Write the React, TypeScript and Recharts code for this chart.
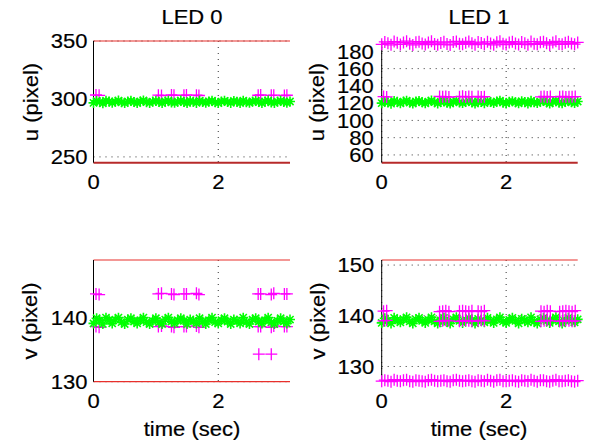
import React from 'react';
import { ScatterChart, Scatter, XAxis, YAxis, CartesianGrid, ReferenceLine } from 'recharts';

const FONT = '"Liberation Sans", Arial, Helvetica, sans-serif';
const MAGENTA = '#ff00ff';
const GREEN = '#00ff00';

// sample times (sec)
const TIME = [
    0, 0.05, 0.1, 0.15, 0.2, 0.25, 0.3, 0.35, 0.4, 0.45,
    0.5, 0.55, 0.6, 0.65, 0.7, 0.75, 0.8, 0.85, 0.9, 0.95,
    1, 1.05, 1.1, 1.15, 1.2, 1.25, 1.3, 1.35, 1.4, 1.45,
    1.5, 1.55, 1.6, 1.65, 1.7, 1.75, 1.8, 1.85, 1.9, 1.95,
    2, 2.05, 2.1, 2.15, 2.2, 2.25, 2.3, 2.35, 2.4, 2.45,
    2.5, 2.55, 2.6, 2.65, 2.7, 2.75, 2.8, 2.85, 2.9, 2.95,
    3, 3.05, 3.1, 3.15,
];

// times of the '+' clusters
const LED0_HITS_T = [0.04, 0.09, 1.04, 1.09, 1.25, 1.29, 1.45, 1.49, 1.65, 1.69, 2.64, 2.68, 2.85, 2.89, 3.06, 3.1];
const LED0_LOW_T = [2.65, 2.85];
const LED1_HITS_T = [
    0.03, 0.08, 0.93, 0.98, 1.03, 1.08, 1.25, 1.3, 1.35, 1.4, 1.45, 1.55,
    1.6, 1.65, 2.56, 2.61, 2.66, 2.71, 2.86, 2.91, 2.96, 3.01, 3.06, 3.11,
];

// LED 0, u
const LED0_U_EST = [
    296.6, 298.3, 297.4, 296.3, 298.5, 297.9, 296.7, 297.6, 298.6, 297.1,
    296.4, 297.8, 298.4, 297.3, 296.5, 297.9, 298.7, 297.2, 296.6, 297.7,
    298.3, 297.5, 296.4, 297.9, 298.5, 297.0, 296.7, 297.6, 298.6, 297.3,
    296.5, 298.2, 297.6, 296.6, 298.4, 297.4, 296.7, 297.8, 298.5, 297.1,
    296.4, 297.7, 298.4, 297.4, 296.6, 298.2, 297.5, 296.5, 298.5, 297.2,
    296.7, 297.8, 298.3, 297.3, 296.4, 297.9, 298.6, 297.0, 296.6, 297.7,
    298.4, 297.4, 296.7, 297.8,
];
const LED0_U_MEAS = [303.4, 303.1, 303.3, 303.0, 303.4, 303.2, 303.1, 303.4, 303.3, 303.0, 303.2, 303.4, 303.1, 303.3, 303.0, 303.2];

// LED 1, u
const LED1_U_EST = [
    120.0, 122.3, 121.0, 119.4, 122.6, 121.5, 119.9, 121.8, 122.8, 120.7,
    119.6, 121.9, 122.5, 120.9, 119.8, 121.6, 123.0, 121.1, 119.7, 121.4,
    122.4, 120.5, 119.5, 121.7, 122.7, 120.8, 120.1, 121.5, 122.6, 121.0,
    119.6, 122.2, 121.3, 120.0, 122.5, 121.2, 120.2, 121.9, 122.8, 120.6,
    119.7, 121.6, 122.3, 121.0, 119.9, 122.2, 121.4, 119.6, 122.7, 120.9,
    120.1, 121.8, 122.4, 121.1, 119.5, 121.7, 122.8, 120.6, 120.0, 121.5,
    122.5, 121.0, 120.2, 121.9,
];
const LED1_U_GHOST = [
    188.2, 190.9, 189.4, 187.6, 191.3, 189.9, 188.0, 190.4, 191.8, 188.9,
    187.4, 190.6, 191.2, 189.1, 187.9, 190.2, 191.6, 188.6, 187.7, 189.8,
    191.0, 188.4, 187.5, 190.7, 191.5, 188.8, 188.1, 190.1, 191.4, 189.3,
    187.8, 190.8, 189.6, 188.3, 191.1, 189.0, 187.6, 190.5, 191.7, 188.7,
    187.9, 190.3, 191.2, 189.2, 188.0, 190.9, 189.5, 187.7, 191.3, 188.9,
    188.2, 190.6, 191.0, 189.4, 187.5, 190.2, 191.6, 188.5, 188.1, 189.9,
    191.2, 189.0, 188.3, 190.4,
];
const LED1_U_MEAS = [
    127.6, 127.2, 127.8, 127.3, 127.6, 127.1, 127.5, 127.9, 127.2, 127.6, 127.4, 127.8,
    127.1, 127.5, 127.3, 127.7, 127.2, 127.6, 127.4, 127.8, 127.1, 127.5, 127.3, 127.6,
];

// LED 0, v
const LED0_V_EST = [
    139.1, 139.9, 139.5, 139.0, 140.0, 139.6, 139.1, 139.7, 140.0, 139.3,
    139.0, 139.7, 139.9, 139.4, 139.1, 139.6, 140.0, 139.3, 139.0, 139.5,
    139.9, 139.3, 139.0, 139.7, 140.0, 139.4, 139.1, 139.6, 139.9, 139.5,
    139.0, 139.7, 139.5, 139.1, 139.9, 139.4, 139.0, 139.6, 140.0, 139.3,
    139.1, 139.6, 139.9, 139.4, 139.0, 139.7, 139.5, 139.1, 140.0, 139.3,
    139.0, 139.7, 139.9, 139.4, 139.1, 139.6, 140.0, 139.3, 139.0, 139.5,
    139.9, 139.4, 139.1, 139.7,
];
const LED0_V_MEAS_HI = [143.7, 143.6, 143.7, 143.8, 143.7, 143.6, 143.7, 143.7, 143.8, 143.6, 143.7, 143.7, 143.6, 143.8, 143.7, 143.7];
const LED0_V_MEAS_LO = [138.6, 138.5, 138.6, 138.7, 138.6, 138.5, 138.6, 138.6, 138.7, 138.5, 138.6, 138.6, 138.5, 138.7, 138.6, 138.6];
const LED0_V_MEAS_OUT = [134.3, 134.3];

// LED 1, v
const LED1_V_EST = [
    138.6, 139.5, 139.0, 138.5, 139.6, 139.2, 138.7, 139.3, 139.7, 138.9,
    138.5, 139.3, 139.6, 139.0, 138.6, 139.2, 139.7, 138.9, 138.5, 139.1,
    139.6, 138.8, 138.5, 139.3, 139.7, 139.0, 138.6, 139.2, 139.6, 139.1,
    138.5, 139.4, 139.1, 138.7, 139.6, 139.0, 138.6, 139.3, 139.7, 138.9,
    138.6, 139.2, 139.6, 139.0, 138.5, 139.4, 139.1, 138.7, 139.7, 138.9,
    138.5, 139.3, 139.6, 139.0, 138.6, 139.2, 139.7, 138.9, 138.5, 139.1,
    139.6, 139.0, 138.7, 139.3,
];
const LED1_V_GHOST = [
    127.1, 127.3, 127.2, 127.0, 127.4, 127.2, 127.1, 127.3, 127.4, 127.1,
    127.0, 127.3, 127.2, 127.1, 127.0, 127.3, 127.4, 127.2, 127.1, 127.2,
    127.3, 127.1, 127.0, 127.3, 127.4, 127.2, 127.1, 127.2, 127.3, 127.1,
    127.0, 127.3, 127.2, 127.1, 127.4, 127.2, 127.0, 127.3, 127.4, 127.1,
    127.1, 127.2, 127.3, 127.1, 127.0, 127.3, 127.2, 127.1, 127.4, 127.2,
    127.0, 127.3, 127.3, 127.1, 127.0, 127.2, 127.4, 127.1, 127.1, 127.2,
    127.3, 127.1, 127.0, 127.2,
];
const LED1_V_MEAS_HI = [
    140.9, 141.0, 140.8, 140.9, 141.0, 140.8, 140.9, 141.0, 140.9, 140.8, 141.0, 140.9,
    140.8, 141.0, 140.9, 140.8, 141.0, 140.9, 140.8, 140.9, 141.0, 140.9, 140.8, 141.0,
];
const LED1_V_MEAS_LO = [
    139.0, 139.1, 138.9, 139.0, 139.1, 139.0, 138.9, 139.0, 139.1, 139.0, 138.9, 139.0,
    139.1, 139.0, 138.9, 139.0, 139.1, 139.0, 138.9, 139.0, 139.1, 139.0, 138.9, 139.0,
];

const X_TICKS = [0, 2];

const pts = (ts: number[], vs: number[]) => ts.map((t, i) => ({ t, v: vs[i] }));

const PlusMark = (props: any) => {
    const { cx, cy } = props;
    if (cx == null || cy == null) return null;
    return (
        <path d={`M${cx - 6},${cy}H${cx + 6}M${cx},${cy - 6}V${cy + 6}`} stroke={MAGENTA} strokeWidth={1.3} fill="none" />
    );
};

const StarMark = (props: any) => {
    const { cx, cy } = props;
    if (cx == null || cy == null) return null;
    const r = 5;
    const d = 3.6;
    return (
        <path
            d={`M${cx - r},${cy}H${cx + r}M${cx},${cy - r}V${cy + r}M${cx - d},${cy - d}L${cx + d},${cy + d}M${cx - d},${cy + d}L${cx + d},${cy - d}`}
            stroke={GREEN}
            strokeWidth={1.6}
            fill="none"
        />
    );
};

const YTick = (props: any) => {
    const { x, y, payload } = props;
    return (
        <text x={0} y={0} dy="0.36em" transform={`translate(${x},${y}) scale(1.1,1)`} textAnchor="end"
            fontSize={20} fontFamily={FONT} fill="#000" stroke="#000" strokeWidth={0.2}>
            {payload.value}
        </text>
    );
};

const XTick = (props: any) => {
    const { x, y, payload } = props;
    return (
        <text x={0} y={0} dy={26.8} transform={`translate(${x},${y}) scale(1.1,1)`} textAnchor="middle"
            fontSize={20} fontFamily={FONT} fill="#000" stroke="#000" strokeWidth={0.2}>
            {payload.value}
        </text>
    );
};

type Series = { data: { t: number; v: number }[]; mark: 'plus' | 'star' };

interface PanelProps {
    left: number;
    top: number;
    plotLeft: number;
    plotRight: number;
    plotTop: number;
    plotBottom: number;
    domain: [number, number];
    ticks: number[];
    tickGap: number;
    series: Series[];
    topLine?: { color: string; width: number };
    bottomLine?: { color: string; width: number };
}

const W = 296;
const H = 221;
const XH = 30;

function Panel(p: PanelProps) {
    return (
        <div style={{ position: 'absolute', left: p.left, top: p.top, width: W, height: H }}>
            <ScatterChart
                width={W}
                height={H}
                margin={{ top: p.plotTop, right: W - p.plotRight, bottom: H - p.plotBottom - XH, left: 0 }}
            >
                <CartesianGrid
                    stroke="#333"
                    strokeDasharray="1 5"
                    horizontalValues={p.ticks}
                    verticalValues={X_TICKS}
                />
                <XAxis
                    type="number"
                    dataKey="t"
                    domain={[0, 3.15]}
                    ticks={X_TICKS}
                    interval={0}
                    height={XH}
                    axisLine={false}
                    tickLine={false}
                    tickSize={0}
                    tickMargin={0}
                    tick={<XTick />}
                />
                <YAxis
                    type="number"
                    dataKey="v"
                    domain={p.domain}
                    ticks={p.ticks}
                    interval={0}
                    width={p.plotLeft}
                    axisLine={{ stroke: '#000', strokeWidth: 1 }}
                    tickLine={false}
                    tickSize={0}
                    tickMargin={p.tickGap}
                    tick={<YTick />}
                />
                {p.topLine && (
                    <ReferenceLine y={p.domain[1]} stroke={p.topLine.color} strokeWidth={p.topLine.width} />
                )}
                {p.bottomLine && (
                    <ReferenceLine y={p.domain[0]} stroke={p.bottomLine.color} strokeWidth={p.bottomLine.width} />
                )}
                {p.series.map((s, i) => (
                    <Scatter
                        key={i}
                        data={s.data}
                        isAnimationActive={false}
                        shape={s.mark === 'plus' ? PlusMark : StarMark}
                    />
                ))}
            </ScatterChart>
        </div>
    );
}

const textBase: React.CSSProperties = {
    position: 'absolute',
    fontFamily: FONT,
    fontSize: 20,
    lineHeight: 1,
    whiteSpace: 'nowrap',
    color: '#000',
    WebkitTextStroke: '0.2px #000',
};

function Title({ x, y, text }: { x: number; y: number; text: string }) {
    return <div style={{ ...textBase, left: x, top: y, transform: 'translate(-50%,-50%) scaleX(1.1)' }}>{text}</div>;
}

function VLabel({ x, y, text }: { x: number; y: number; text: string }) {
    return (
        <div style={{ ...textBase, left: x, top: y, transform: 'translate(-50%,-50%) rotate(-90deg) scaleX(1.1)' }}>
            {text}
        </div>
    );
}

const BRICK = { color: '#b72a2a', width: 2 };
const RED = { color: '#e8302c', width: 1.2 };

export default function App() {
    return (
        <div style={{ position: 'absolute', left: 0, top: 0, width: 592, height: 442, background: '#fff', overflow: 'hidden' }}>
            <Panel
                left={0} top={0} plotLeft={93.5} plotRight={290} plotTop={41} plotBottom={162.7}
                domain={[245, 350]} ticks={[250, 300, 350]} tickGap={6}
                topLine={RED} bottomLine={BRICK}
                series={[
                    { data: pts(LED0_HITS_T, LED0_U_MEAS), mark: 'plus' },
                    { data: pts(TIME, LED0_U_EST), mark: 'star' },
                ]}
            />
            <Panel
                left={296} top={0} plotLeft={85.7} plotRight={281.7} plotTop={41} plotBottom={162.7}
                domain={[51, 192]} ticks={[60, 80, 100, 120, 140, 160, 180]} tickGap={8}
                bottomLine={BRICK}
                series={[
                    { data: pts(TIME, LED1_U_EST), mark: 'star' },
                    { data: pts(LED1_HITS_T, LED1_U_MEAS), mark: 'plus' },
                    { data: pts(TIME, LED1_U_GHOST), mark: 'plus' },
                ]}
            />
            <Panel
                left={0} top={221} plotLeft={93.5} plotRight={290} plotTop={39} plotBottom={160.7}
                domain={[130, 149]} ticks={[130, 140]} tickGap={6}
                topLine={RED} bottomLine={RED}
                series={[
                    { data: pts(LED0_HITS_T, LED0_V_MEAS_HI), mark: 'plus' },
                    { data: pts(LED0_HITS_T, LED0_V_MEAS_LO), mark: 'plus' },
                    { data: pts(LED0_LOW_T, LED0_V_MEAS_OUT), mark: 'plus' },
                    { data: pts(TIME, LED0_V_EST), mark: 'star' },
                ]}
            />
            <Panel
                left={296} top={221} plotLeft={85.7} plotRight={281.7} plotTop={39} plotBottom={160.7}
                domain={[127, 151]} ticks={[130, 140, 150]} tickGap={7.5}
                topLine={RED}
                series={[
                    { data: pts(TIME, LED1_V_EST), mark: 'star' },
                    { data: pts(LED1_HITS_T, LED1_V_MEAS_HI), mark: 'plus' },
                    { data: pts(LED1_HITS_T, LED1_V_MEAS_LO), mark: 'plus' },
                    { data: pts(TIME, LED1_V_GHOST), mark: 'plus' },
                ]}
            />
            <Title x={191.5} y={16.5} text="LED 0" />
            <Title x={479} y={16.5} text="LED 1" />
            <VLabel x={30.5} y={102} text="u (pixel)" />
            <VLabel x={316.5} y={102} text="u (pixel)" />
            <VLabel x={30} y={321} text="v (pixel)" />
            <VLabel x={318} y={321} text="v (pixel)" />
            <Title x={191.7} y={428.5} text="time (sec)" />
            <Title x={478.5} y={428.5} text="time (sec)" />
        </div>
    );
}
